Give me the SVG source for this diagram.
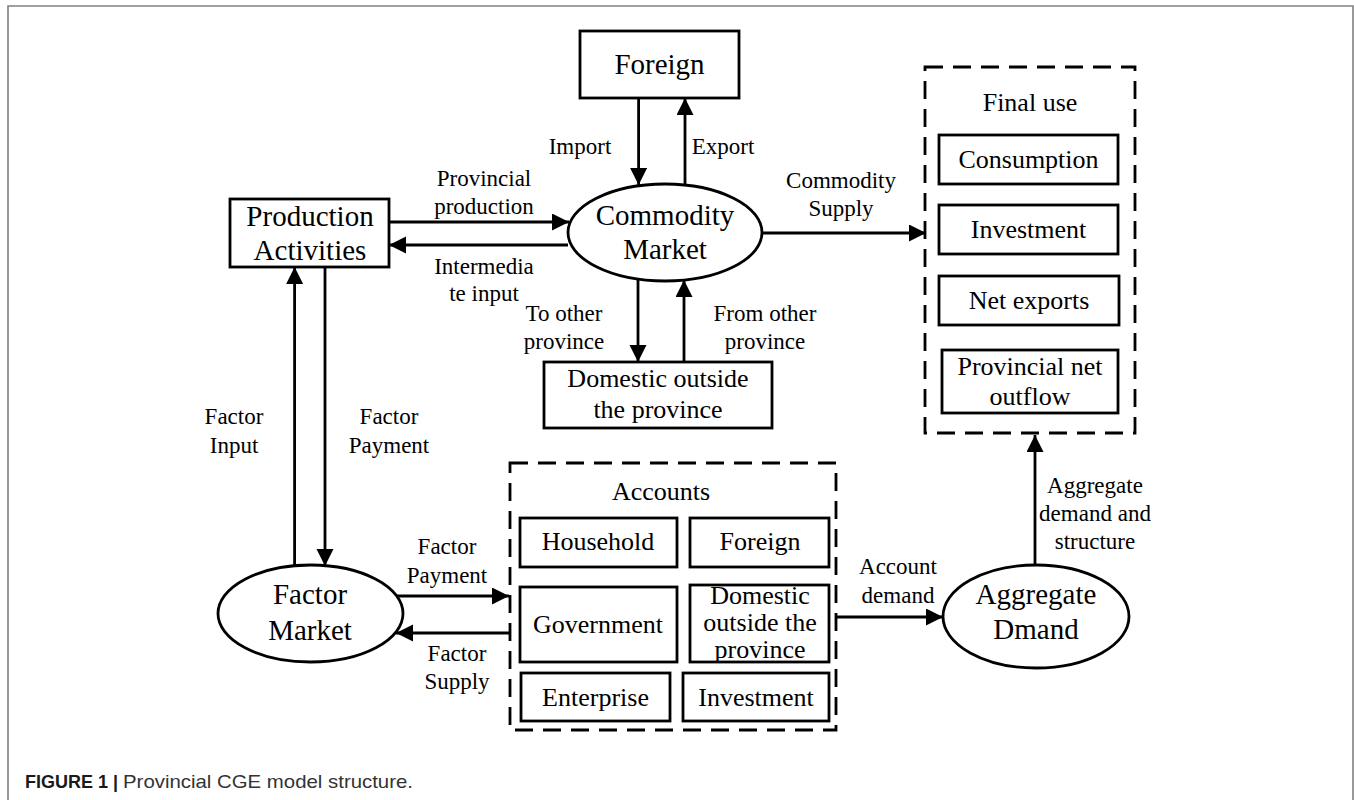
<svg xmlns="http://www.w3.org/2000/svg" width="1354" height="800" viewBox="0 0 1354 800">
<style>
.box{fill:#fff;stroke:#000;stroke-width:2.8}
.dash{fill:none;stroke:#000;stroke-width:2.8;stroke-dasharray:18 10}
.conn{stroke:#000;stroke-width:2.8;fill:none}
.n{font-family:"Liberation Serif","Times New Roman",serif;font-size:29px;fill:#000;text-anchor:middle}
.s{font-family:"Liberation Serif","Times New Roman",serif;font-size:26px;fill:#000;text-anchor:middle}
.l{font-family:"Liberation Serif","Times New Roman",serif;font-size:23px;fill:#000;text-anchor:middle}
</style>
<defs>
<marker id="ah" markerUnits="userSpaceOnUse" markerWidth="18" markerHeight="18" refX="17" refY="8.5" orient="auto">
<path d="M0,0 L17,8.5 L0,17 z" fill="#000"/>
</marker>
</defs>
<rect width="1354" height="800" fill="#fff"/>
<path d="M8,800 V6 H1353 V800" fill="none" stroke="#808080" stroke-width="1.6"/>

<g id="foreign">
<rect class="box" x="580" y="31" width="159" height="67"/>
<text class="n" x="659.5" y="74">Foreign</text>
</g>
<g id="commodity-market">
<ellipse class="box" cx="665" cy="232.5" rx="97" ry="48.5"/>
<text class="n" x="665" y="225">Commodity</text>
<text class="n" x="665" y="259">Market</text>
</g>
<g id="production-activities">
<rect class="box" x="230" y="199" width="159" height="68"/>
<text class="n" x="310" y="226">Production</text>
<text class="n" x="310" y="260">Activities</text>
</g>
<g id="domestic-outside">
<rect class="box" x="544" y="362" width="228" height="66"/>
<text class="s" x="658" y="387">Domestic outside</text>
<text class="s" x="658" y="418">the province</text>
</g>
<g id="final-use">
<rect class="dash" x="925" y="67" width="210" height="366"/>
<text class="s" x="1030" y="111">Final use</text>
<rect class="box" x="939" y="135" width="179" height="49"/>
<text class="s" x="1028.5" y="168">Consumption</text>
<rect class="box" x="939" y="205" width="179" height="49"/>
<text class="s" x="1028.5" y="238">Investment</text>
<rect class="box" x="939" y="276" width="180" height="49"/>
<text class="s" x="1029" y="309">Net exports</text>
<rect class="box" x="942" y="350" width="176" height="63"/>
<text class="s" x="1030" y="375">Provincial net</text>
<text class="s" x="1030" y="405">outflow</text>
</g>
<g id="factor-market">
<ellipse class="box" cx="310.5" cy="613.5" rx="92.5" ry="48.5"/>
<text class="n" x="310" y="604">Factor</text>
<text class="n" x="310" y="640">Market</text>
</g>
<g id="accounts">
<rect class="dash" x="510" y="463" width="326" height="267"/>
<text class="s" x="661" y="500">Accounts</text>
<rect class="box" x="520" y="518" width="157" height="49"/>
<text class="s" x="598" y="550">Household</text>
<rect class="box" x="690" y="518" width="139" height="49"/>
<text class="s" x="760" y="550">Foreign</text>
<rect class="box" x="520" y="587" width="157" height="75"/>
<text class="s" x="598" y="633">Government</text>
<rect class="box" x="690" y="585" width="139" height="77"/>
<text class="s" x="760" y="604">Domestic</text>
<text class="s" x="760" y="631">outside the</text>
<text class="s" x="760" y="658">province</text>
<rect class="box" x="521" y="673" width="149" height="48"/>
<text class="s" x="595.5" y="706">Enterprise</text>
<rect class="box" x="683" y="673" width="146" height="48"/>
<text class="s" x="756" y="706">Investment</text>
</g>
<g id="aggregate-demand">
<ellipse class="box" cx="1036" cy="616.5" rx="93" ry="51.5"/>
<text class="n" x="1036" y="604">Aggregate</text>
<text class="n" x="1036" y="639">Dmand</text>
</g>

<g id="connectors">
<line class="conn" x1="638.6" y1="98" x2="638.6" y2="185" marker-end="url(#ah)"/>
<line class="conn" x1="685" y1="186" x2="685" y2="98" marker-end="url(#ah)"/>
<line class="conn" x1="389" y1="222" x2="569" y2="222" marker-end="url(#ah)"/>
<line class="conn" x1="568" y1="245" x2="389" y2="245" marker-end="url(#ah)"/>
<line class="conn" x1="638" y1="280" x2="638" y2="362" marker-end="url(#ah)"/>
<line class="conn" x1="684" y1="362" x2="684" y2="280" marker-end="url(#ah)"/>
<line class="conn" x1="762" y1="233" x2="926" y2="233" marker-end="url(#ah)"/>
<line class="conn" x1="294.6" y1="566" x2="294.6" y2="267" marker-end="url(#ah)"/>
<line class="conn" x1="325" y1="267" x2="325" y2="566" marker-end="url(#ah)"/>
<line class="conn" x1="397" y1="596" x2="509" y2="596" marker-end="url(#ah)"/>
<line class="conn" x1="510" y1="633" x2="396" y2="633" marker-end="url(#ah)"/>
<line class="conn" x1="836" y1="617" x2="943" y2="617" marker-end="url(#ah)"/>
<line class="conn" x1="1035" y1="565" x2="1035" y2="435" marker-end="url(#ah)"/>
</g>

<g id="labels">
<text class="l" x="580" y="154">Import</text>
<text class="l" x="723" y="154">Export</text>
<text class="l" x="484" y="186">Provincial</text>
<text class="l" x="484" y="214">production</text>
<text class="l" x="484" y="274">Intermedia</text>
<text class="l" x="484" y="301">te input</text>
<text class="l" x="564" y="321">To other</text>
<text class="l" x="564" y="349">province</text>
<text class="l" x="765" y="321">From other</text>
<text class="l" x="765" y="349">province</text>
<text class="l" x="841" y="188">Commodity</text>
<text class="l" x="841" y="216">Supply</text>
<text class="l" x="234" y="424">Factor</text>
<text class="l" x="234" y="453">Input</text>
<text class="l" x="389" y="424">Factor</text>
<text class="l" x="389" y="453">Payment</text>
<text class="l" x="447" y="554">Factor</text>
<text class="l" x="447" y="583">Payment</text>
<text class="l" x="457" y="661">Factor</text>
<text class="l" x="457" y="689">Supply</text>
<text class="l" x="898" y="574">Account</text>
<text class="l" x="898" y="603">demand</text>
<text class="l" x="1095" y="493">Aggregate</text>
<text class="l" x="1095" y="521">demand and</text>
<text class="l" x="1095" y="549">structure</text>
</g>

<g id="caption">
<text x="25" y="788" font-family="'Liberation Sans',Arial,sans-serif" font-size="18" font-weight="bold" fill="#1a1a1a">FIGURE 1 |</text>
<text x="123" y="788" font-family="'Liberation Sans',Arial,sans-serif" font-size="18.5" fill="#333" textLength="290" lengthAdjust="spacingAndGlyphs">Provincial CGE model structure.</text>
</g>
</svg>
